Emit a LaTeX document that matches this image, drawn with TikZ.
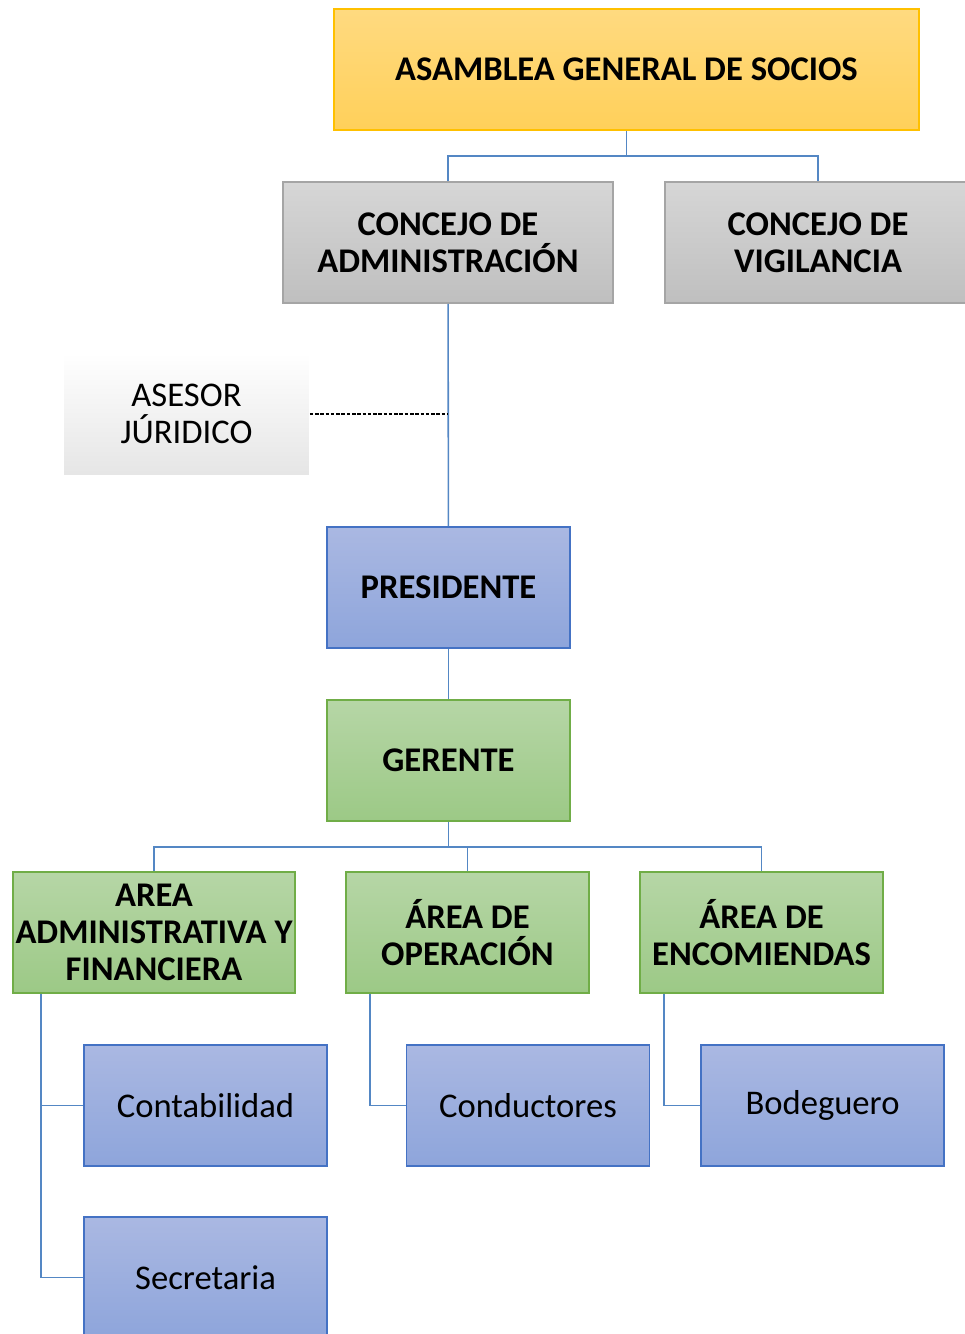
\documentclass[tikz,border=0pt]{standalone}
\usepackage{fontspec}
\setmainfont{Carlito}
\definecolor{oroborde}{RGB}{255,192,0}
\definecolor{orotop}{RGB}{255,218,128}
\definecolor{orobot}{RGB}{255,208,90}
\definecolor{grisborde}{RGB}{165,165,165}
\definecolor{gristop}{RGB}{214,214,214}
\definecolor{grisbot}{RGB}{191,191,191}
\definecolor{azulborde}{RGB}{68,114,196}
\definecolor{azultop}{RGB}{170,184,226}
\definecolor{azulbot}{RGB}{142,165,219}
\definecolor{verdeborde}{RGB}{112,173,71}
\definecolor{verdetop}{RGB}{182,214,166}
\definecolor{verdebot}{RGB}{156,201,134}
\definecolor{linea}{RGB}{84,135,196}
\begin{document}
\begin{tikzpicture}[x=0.02cm, y=-0.02cm,
  caja/.style={rectangle, line width=1pt, align=center, inner sep=0pt,
    minimum height=2.42cm, minimum width=4.86cm, font=\fontsize{19.7}{21}\selectfont},
  titulo/.style={caja, font=\fontsize{19.7}{21}\selectfont\bfseries},
  oro/.style={draw=oroborde, top color=orotop, bottom color=orobot},
  gris/.style={draw=grisborde, top color=gristop, bottom color=grisbot},
  azul/.style={draw=azulborde, top color=azultop, bottom color=azulbot},
  verde/.style={draw=verdeborde, top color=verdetop, bottom color=verdebot},
  enlace/.style={draw=linea, line width=0.9pt}]
\useasboundingbox (0,0) rectangle (964,1334);
\node[titulo, oro, minimum width=11.7cm] (asamblea) at (626.5,69.5) {ASAMBLEA GENERAL DE SOCIOS};
\node[titulo, gris, minimum width=6.6cm] (concAdm) at (448,242.5) {CONCEJO DE\\ADMINISTRACIÓN};
\node[titulo, gris, minimum width=6.12cm] (concVig) at (818,242.5) {CONCEJO DE\\VIGILANCIA};
\coordinate (j1) at (626.5,156);
\draw[enlace](asamblea) -- (j1);
\draw[enlace](concAdm.north) |- (j1) -| (concVig.north);
\node[caja, top color=white, middle color=white, bottom color=black!10, minimum width=4.9cm, minimum height=2.44cm] (asesor) at (186.5,414) {ASESOR\\JÚRIDICO};
\node[titulo, azul] (presidente) at (448.5,587.5) {PRESIDENTE};
\node[titulo, verde] (gerente) at (448.5,760.5) {GERENTE};
\draw[enlace](concAdm) -- (presidente);
\draw[dash pattern=on 2pt off 1pt, line width=0.6pt](asesor.east) -- (asesor.east -| concAdm.south);
\draw[enlace](presidente) -- (gerente);
\node[titulo, verde, minimum width=5.64cm] (areaAdm) at (154,932.5) {AREA\\ADMINISTRATIVA Y\\FINANCIERA};
\node[titulo, verde] (areaOp) at (467.5,932.5) {ÁREA DE\\OPERACIÓN};
\node[titulo, verde] (areaEnc) at (761.5,932.5) {ÁREA DE\\ENCOMIENDAS};
\coordinate (j2) at (448.5,847);
\draw[enlace](gerente) -- (j2);
\draw[enlace](areaAdm.north) |- (j2) -| (areaEnc.north);
\draw[enlace](j2) -| (areaOp.north);
\node[caja, azul] (contab) at (205.5,1105.5) {Contabilidad};
\node[caja, azul] (secret) at (205.5,1277.5) {Secretaria};
\node[caja, azul] (conduc) at (528,1105.5) {Conductores};
\node[caja, azul] (bodeg) at (822.5,1105.5) {Bodeguero};
\draw[enlace]([xshift=0.58cm]areaAdm.south west) |- (contab.west);
\draw[enlace]([xshift=0.58cm]areaAdm.south west) |- (secret.west);
\draw[enlace]([xshift=0.5cm]areaOp.south west) |- (conduc.west);
\draw[enlace]([xshift=0.5cm]areaEnc.south west) |- (bodeg.west);
\end{tikzpicture}
\end{document}
